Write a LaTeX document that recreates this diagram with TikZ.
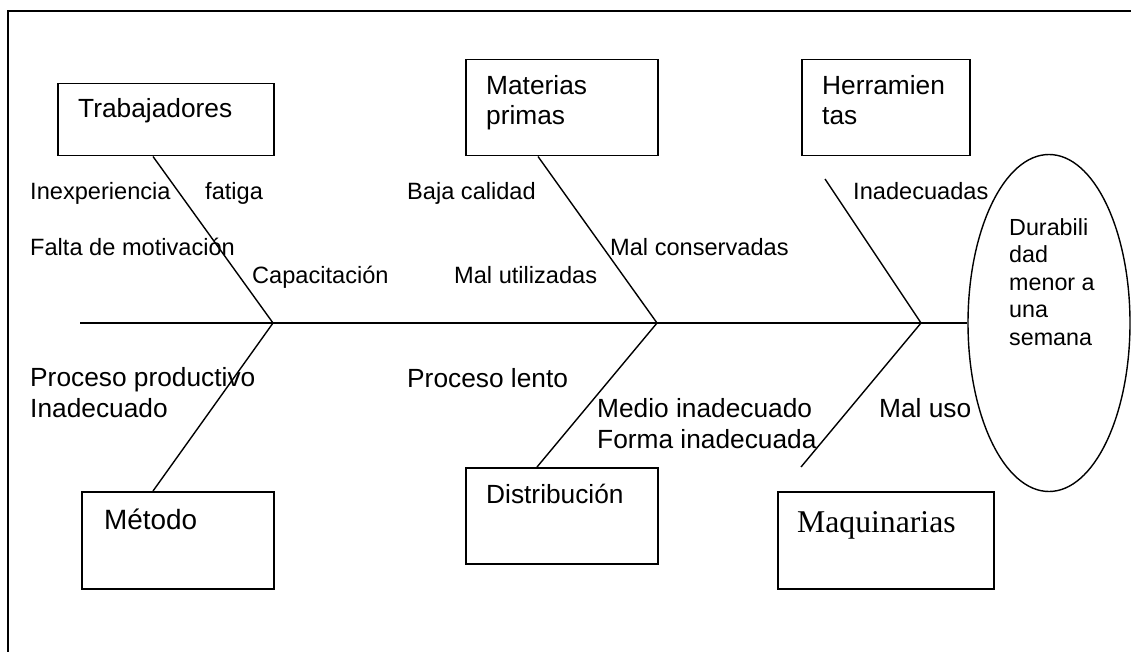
\documentclass[tikz,border=0pt]{standalone}
\usepackage{fontspec}
\setmainfont{Liberation Sans}
\newfontfamily\timesfont{Liberation Serif}
\usetikzlibrary{shapes.geometric}

\begin{document}
\begin{tikzpicture}[x=1pt,y=-1pt,
  caja/.style={draw,line width=1.5pt,inner sep=0pt,anchor=north west},
  titulo/.style={font=\fontsize{26.3}{30}\selectfont,align=left,inner sep=0pt,anchor=base west},
  causa/.style={font=\fontsize{23.6}{30}\selectfont,align=left,inner sep=0pt,anchor=base west},
  causab/.style={font=\fontsize{26.3}{31}\selectfont,align=left,inner sep=0pt,anchor=base west},
  espina/.style={line width=1.4pt}]
 \useasboundingbox (0,0) rectangle (1131,652);
 \clip (0,0) rectangle (1131,652);
 \draw[line width=1.8pt] (8,11) rectangle (1150,680);

 % cajas de causas
 \node[caja,minimum width=216pt,minimum height=72pt] (trab) at (57,83) {};
 \node[caja,minimum width=192pt,minimum height=96pt] (mat) at (465,59) {};
 \node[caja,minimum width=168pt,minimum height=96pt] (herr) at (801,59) {};
 \node[caja,minimum width=192pt,minimum height=97pt] (met) at (81,491) {};
 \node[caja,minimum width=192pt,minimum height=96pt] (dist) at (465,467) {};
 \node[caja,minimum width=216pt,minimum height=97pt] (maq) at (777,491) {};

 % textos de las cajas (anclados en la ultima linea)
 \node[titulo] (ttrab) at (78,118) {Trabajadores};
 \node[titulo] (tmat) at (486,125) {Materias\\primas};
 \node[titulo] (therr) at (822,125) {Herramien\\tas};
 \node[titulo,font=\fontsize{27.9}{32}\selectfont] (tmet) at (104,529) {Método};
 \node[titulo] (tdist) at (486,503) {Distribución};
 \node[titulo,font=\timesfont\fontsize{31.7}{36}\selectfont] (tmaq) at (797,532) {Maquinarias};

 % efecto
 \node[draw,ellipse,line width=1.4pt,minimum width=162pt,minimum height=337pt,inner sep=0pt] (efecto) at (1049,323) {};
 \node[font=\fontsize{23.3}{27.5}\selectfont,align=left,inner sep=0pt,anchor=base west] (tefecto) at (1009,345) {Durabili\\dad\\menor a\\una\\semana};

 % espina central
 \coordinate (cola) at (80,323);
 \coordinate (j1) at (273,323);
 \coordinate (j2) at (657,323);
 \coordinate (j3) at (921,323);
 \coordinate (h1) at (825,179);
 \coordinate (m1) at (801,467);
 \draw[line width=2.5pt] (cola) -- (efecto.west);

 \draw[espina] ([xshift=96pt]trab.south west) -- (j1);
 \draw[espina] ([xshift=73pt]mat.south west) -- (j2);
 \draw[espina] (h1) -- (j3);
 \draw[espina] ([xshift=72pt]met.north west) -- (j1);
 \draw[espina] ([xshift=72pt]dist.north west) -- (j2);
 \draw[espina] (m1) -- (j3);

 % causas secundarias
 \node[causa] (c1) at (30,200) {Inexperiencia};
 \node[causa] (c2) at (205,200) {fatiga};
 \node[causa] (c3) at (30,255) {Falta de motivación};
 \node[causa] (c4) at (252,283) {Capacitación};
 \node[causa] (c5) at (407,200) {Baja calidad};
 \node[causa] (c6) at (610,255) {Mal conservadas};
 \node[causa] (c7) at (454,283) {Mal utilizadas};
 \node[causa] (c8) at (853,200) {Inadecuadas};
 \node[causab] (c9) at (30,417) {Proceso productivo\\Inadecuado};
 \node[causab] (c10) at (407,387) {Proceso lento};
 \node[causab] (c11) at (597,448) {Medio inadecuado\\Forma inadecuada};
 \node[causab] (c12) at (879,417) {Mal uso};
\end{tikzpicture}
\end{document}
